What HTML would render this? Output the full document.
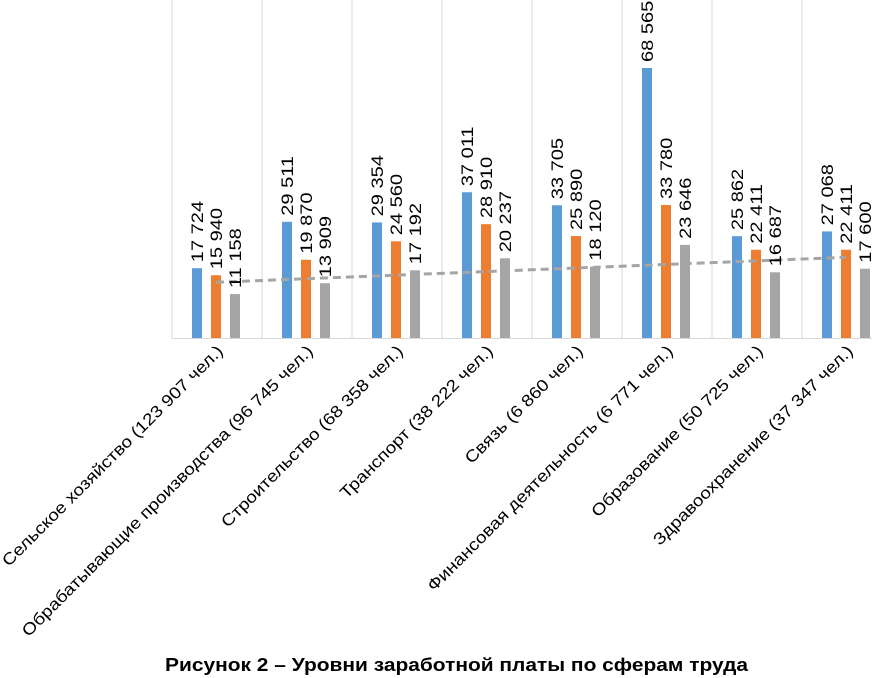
<!DOCTYPE html>
<html><head><meta charset="utf-8"><style>
html,body{margin:0;padding:0;background:#fff;}
svg{display:block;font-family:"Liberation Sans",Arial,sans-serif;}
</style></head><body>
<svg id="chart" width="872" height="678" viewBox="0 0 872 678" xmlns="http://www.w3.org/2000/svg">
<g id="grid"></g>
<g id="bars"></g>
<g id="labels"></g>
<g id="cats"></g>
<text x="165" y="671" textLength="583" lengthAdjust="spacingAndGlyphs" font-size="18" font-weight="bold" fill="#000">Рисунок 2 – Уровни заработной платы по сферам труда</text>
</svg>
<script>
const categories = ["Сельское хозяйство (123 907 чел.)","Обрабатывающие производства (96 745 чел.)","Строительство (68 358 чел.)","Транспорт (38 222 чел.)","Связь (6 860 чел.)","Финансовая деятельность (6 771 чел.)","Образование (50 725 чел.)","Здравоохранение (37 347 чел.)"];
const seriesBlue = [17724,29511,29354,37011,33705,68565,25862,27068];
const seriesOrange = [15940,19870,24560,28910,25890,33780,22411,22411];
const seriesGray = [11158,13909,17192,20237,18120,23646,16687,17600];

const NS="http://www.w3.org/2000/svg";
const x0=172, catW=90, baseY=338, scale=270/68565;
const yAt=v=>baseY-v*scale;
const xCat=i=>x0+i*catW;
function mk(tag,attrs,parent){const e=document.createElementNS(NS,tag);for(const k in attrs)e.setAttribute(k,attrs[k]);parent.appendChild(e);return e;}
const grid=document.getElementById('grid'),bars=document.getElementById('bars'),labels=document.getElementById('labels'),cats=document.getElementById('cats');
for(let i=0;i<=categories.length;i++){
  const l=mk('line',{x1:xCat(i),x2:xCat(i),y1:0,y2:baseY,stroke:'#d9d9d9','stroke-width':1},grid);
  
  
}
const ax=mk('line',{x1:x0,x2:872,y1:baseY+0.5,y2:baseY+0.5,stroke:'#d9d9d9','stroke-width':1},grid);


const series=[[seriesBlue,'#5b9bd5'],[seriesOrange,'#ed7d31'],[seriesGray,'#a5a5a5']];
const fmt=v=>String(v).replace(/\B(?=(\d{3})+(?!\d))/g,' ');
categories.forEach((c,i)=>{
  series.forEach(([arr,col],s)=>{
    const bx=xCat(i)+20+s*19, y=yAt(arr[i]);
    const r=mk('rect',{x:bx,y:y,width:10,height:baseY-y,fill:col},bars);
    
    
    const cx=bx+5+6, ty=y-6;
    const t=mk('text',{x:0,y:0,transform:`translate(${cx},${ty}) rotate(-90) scale(1.18,1)`,'font-size':17,fill:'#000'},labels);
    t.textContent=fmt(arr[i]);
    
    
  });
  const cx=xCat(i)+52, cy=352;
  const t=mk('text',{x:0,y:0,transform:`translate(${cx},${cy}) rotate(-45) scale(1.15,1)`,'font-size':16.5,'text-anchor':'end',fill:'#000'},cats);
  t.textContent=c;
  
  
});
// linear trend of gray series
const n=seriesGray.length, mx=(n-1)/2, my=seriesGray.reduce((a,b)=>a+b,0)/n;
let num=0,den=0;seriesGray.forEach((v,i)=>{num+=(i-mx)*(v-my);den+=(i-mx)*(i-mx);});
const slope=num/den, icpt=my-slope*mx;
const tx=i=>xCat(i)+44;
const tr=mk('line',{x1:tx(0),y1:yAt(icpt),x2:tx(n-1),y2:yAt(icpt+slope*(n-1)),stroke:'#a5a5a5','stroke-width':3,'stroke-dasharray':'8 5'},bars);


</script>
</body></html>
